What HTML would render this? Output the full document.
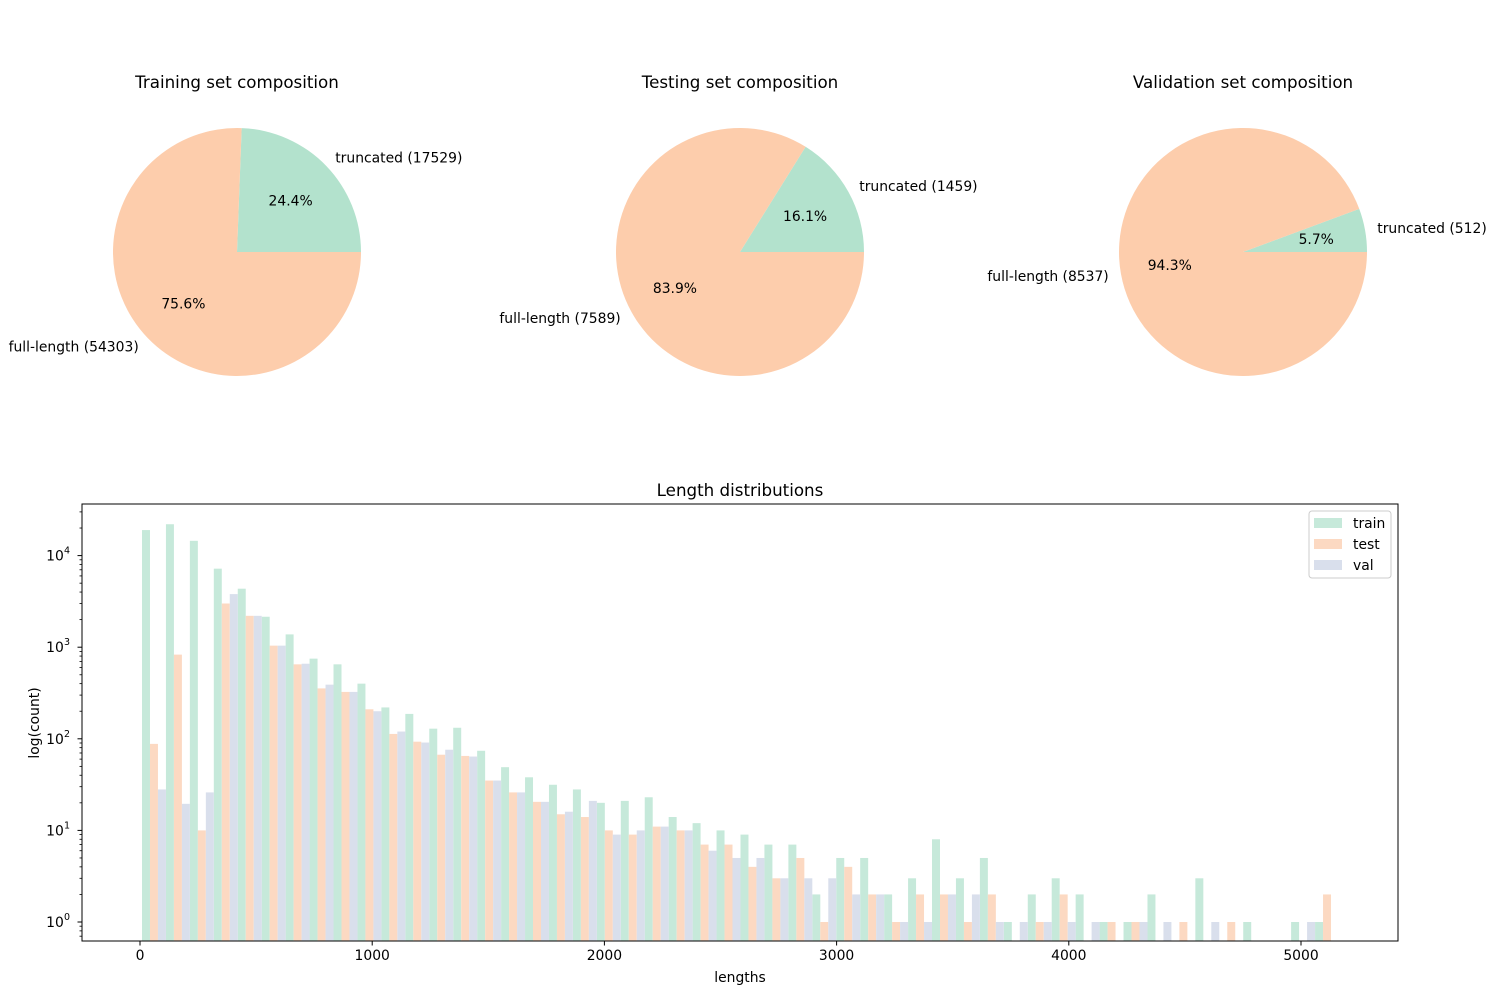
<!DOCTYPE html>
<html><head><meta charset="utf-8"><style>
body{margin:0;background:#fff;}
svg{display:block;font-family:"DejaVu Sans","Liberation Sans",sans-serif;}
</style></head><body>
<svg id="chart" width="1500" height="1000" viewBox="0 0 1500 1000">
<g id="pies"></g>
<g id="hist"></g>
</svg>
<script>
const pieTitles = ["Training set composition","Testing set composition","Validation set composition"];
const pieTruncated = [17529, 1459, 512];
const pieFull = [54303, 7589, 8537];

const binStart = 8.6, binWidth = 103.1;
const trainCounts = [19000,22000,14500,7200,4350,2150,1380,750,650,400,220,187,129,132,74,49,38,31.5,28,20,21,23,14,12,10,9,7,7,2,5,5,2,3,8,3,5,1,2,3,2,1,1,2,0,3,0,1,0,1,1];
const testCounts = [88,830,10,3000,2200,1040,650,355,325,210,113,93,67,65,35,26,20.5,15,14,10,9,11,10,7,7,4,3,5,1,4,2,1,2,2,1,2,0,1,2,0,1,1,0,1,0,1,0,0,0,2];
const valCounts = [28,19.5,26,3800,2200,1040,660,390,325,200,120,91,76,64,35,26,20.5,16,21,9,10,11,10,6,5,5,3,3,3,2,2,1,1,2,2,1,1,1,1,1,0,1,1,0,1,0,0,0,1,0];
const xTicks = [0,1000,2000,3000,4000,5000];
const yTickExp = [0,1,2,3,4];

const NS = "http://www.w3.org/2000/svg";
function mk(tag, attrs, parent, text){
  const e = document.createElementNS(NS, tag);
  for (const k in attrs) e.setAttribute(k, attrs[k]);
  if (text !== undefined) e.textContent = text;
  parent.appendChild(e);
  return e;
}
const FS = 13.9, TFS = 16.7;

// ---- pies ----
const pies = document.getElementById('pies');
const centersX = [237, 740, 1243], cy = 252, R = 124;
const colTrunc = "#b3e2cd", colFull = "#fdcdac";
for (let i = 0; i < 3; i++) {
  const g = mk('g', {}, pies);
  
  
  const cx = centersX[i];
  const t = mk('text', {x: cx, y: 88, 'text-anchor': 'middle', 'font-size': TFS, fill: '#000'}, g, pieTitles[i]);
  
  
  const total = pieTruncated[i] + pieFull[i];
  const frac = pieTruncated[i] / total;
  const a1 = frac * 2 * Math.PI;
  const px = a => cx + R * Math.cos(a), py = a => cy - R * Math.sin(a);
  const large1 = frac > 0.5 ? 1 : 0;
  const w1 = mk('path', {d: `M${cx},${cy} L${px(0)},${py(0)} A${R},${R} 0 ${large1} 0 ${px(a1)},${py(a1)} Z`, fill: colTrunc}, g);
  
  
  const w2 = mk('path', {d: `M${cx},${cy} L${px(a1)},${py(a1)} A${R},${R} 0 ${1-large1} 0 ${px(2*Math.PI)},${py(2*Math.PI)} Z`, fill: colFull}, g);
  
  
  const m1 = a1 / 2, m2 = a1 + (2 * Math.PI - a1) / 2;
  const lab = (ang, r, txt, name) => {
    const x = cx + r * Math.cos(ang), y = cy - r * Math.sin(ang);
    let anchor = 'middle';
    if (r > R) anchor = Math.cos(ang) >= 0 ? 'start' : 'end';
    const e = mk('text', {x: x, y: y + 5, 'text-anchor': anchor, 'font-size': FS, fill: '#000'}, g, txt);
    
    
  };
  lab(m1, R * 1.1, `truncated (${pieTruncated[i]})`, 'label-truncated');
  lab(m2, R * 1.1, `full-length (${pieFull[i]})`, 'label-full-length');
  lab(m1, R * 0.6, (frac * 100).toFixed(1) + '%', 'pct-truncated');
  lab(m2, R * 0.6, ((1 - frac) * 100).toFixed(1) + '%', 'pct-full-length');
}

// ---- histogram ----
const H = document.getElementById('hist');
const L = 82, T = 504, Rt = 1398, B = 941;
const xs = v => 140 + v * 0.2322;
const ys = v => 922 - Math.log10(v) * 91.6;
const bw = binWidth / 3 * 0.2322;
const series = [[trainCounts, '#c6e9da', 'train'], [testCounts, '#fcd9c2', 'test'], [valCounts, '#d9dfec', 'val']];
const barG = mk('g', {}, H);
series.forEach((s, si) => {
  s[0].forEach((v, i) => {
    if (!(v > 0)) return;
    const x0 = xs(binStart + i * binWidth) + si * bw;
    const y0 = Math.max(T, ys(v));
    const r = mk('rect', {x: x0, y: y0, width: bw, height: B - y0, fill: s[1]}, barG);
    
    
  });
});
const frame = mk('rect', {x: L, y: T, width: Rt - L, height: B - T, fill: 'none', stroke: '#000', 'stroke-width': 1}, H);


xTicks.forEach(v => {
  const x = xs(v);
  mk('line', {x1: x, x2: x, y1: B, y2: B + 4.5, stroke: '#000'}, H);
  const t = mk('text', {x: x, y: B + 19, 'text-anchor': 'middle', 'font-size': FS}, H, String(v));
  
  
});
yTickExp.forEach(e => {
  const y = ys(Math.pow(10, e));
  mk('line', {x1: L, x2: L - 4.5, y1: y, y2: y, stroke: '#000'}, H);
  const t = mk('text', {x: L - 27, y: y + 5, 'text-anchor': 'middle', 'font-size': FS}, H, '10');
  
  
  mk('text', {x: L - 15, y: y - 2, 'text-anchor': 'middle', 'font-size': 9.5}, H, String(e));
});
for (let e = -1; e <= 4; e++) for (let m = 2; m <= 9; m++) {
  const y = ys(m * Math.pow(10, e));
  if (y < T || y > B) continue;
  mk('line', {x1: L, x2: L - 2.5, y1: y, y2: y, stroke: '#000', 'stroke-width': 0.8}, H);
}
const title = mk('text', {x: 740, y: 496, 'text-anchor': 'middle', 'font-size': TFS}, H, 'Length distributions');


const xl = mk('text', {x: 740, y: 982, 'text-anchor': 'middle', 'font-size': FS}, H, 'lengths');


const yl = mk('text', {x: 0, y: 0, 'text-anchor': 'middle', 'font-size': FS, transform: 'translate(39,723) rotate(-90)'}, H, 'log(count)');


const lg = mk('g', {}, H);


mk('rect', {x: 1309, y: 511, width: 82, height: 67, rx: 3, fill: '#fff', stroke: '#ccc'}, lg);
series.forEach((s, i) => {
  const y = 518 + i * 21;
  const sw = mk('rect', {x: 1314, y: y, width: 28, height: 10, fill: s[1]}, lg);
  
  
  const t = mk('text', {x: 1353, y: y + 10, 'font-size': FS}, lg, s[2]);
  
  
});
</script>
</body></html>
